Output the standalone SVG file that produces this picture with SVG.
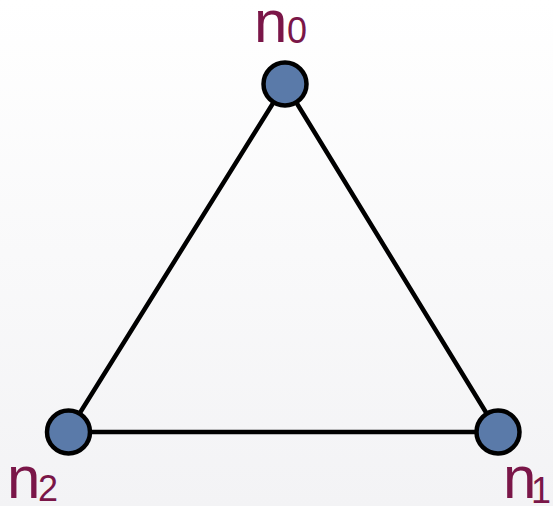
<svg xmlns="http://www.w3.org/2000/svg" width="553" height="506" viewBox="0 0 553 506">
<defs>
<linearGradient id="bg" x1="0" y1="0" x2="0" y2="1">
<stop offset="0" stop-color="#ffffff"/>
<stop offset="1" stop-color="#f3f3f5"/>
</linearGradient>
<style>
.edge{stroke:#000;stroke-width:4.5;fill:none;stroke-linecap:round}
.node{fill:#5a7aa9;stroke:#000;stroke-width:4.5}
.lbl{fill:#7a1648;font-family:"Liberation Sans",Arial,sans-serif}
.big{font-size:60px}
.sub{font-size:36px}
</style>
</defs>
<rect width="553" height="506" fill="url(#bg)"/>
<g id="edges">
<line class="edge" x1="285" y1="84" x2="68" y2="432"/>
<line class="edge" x1="285" y1="84" x2="498" y2="432"/>
<line class="edge" x1="68" y1="432" x2="498" y2="432"/>
</g>
<g id="n0">
<circle class="node" cx="285" cy="84" r="21.5"/>
<text class="lbl big" x="254" y="42">n</text>
<text class="lbl sub" x="287" y="43">0</text>
</g>
<g id="n2">
<circle class="node" cx="68.5" cy="432" r="21.5"/>
<text class="lbl big" x="7" y="498">n</text>
<text class="lbl sub" x="38" y="501">2</text>
</g>
<g id="n1">
<circle class="node" cx="498" cy="432" r="21.5"/>
<text class="lbl big" x="503" y="498">n</text>
<text class="lbl sub" x="531" y="503">1</text>
</g>
</svg>
